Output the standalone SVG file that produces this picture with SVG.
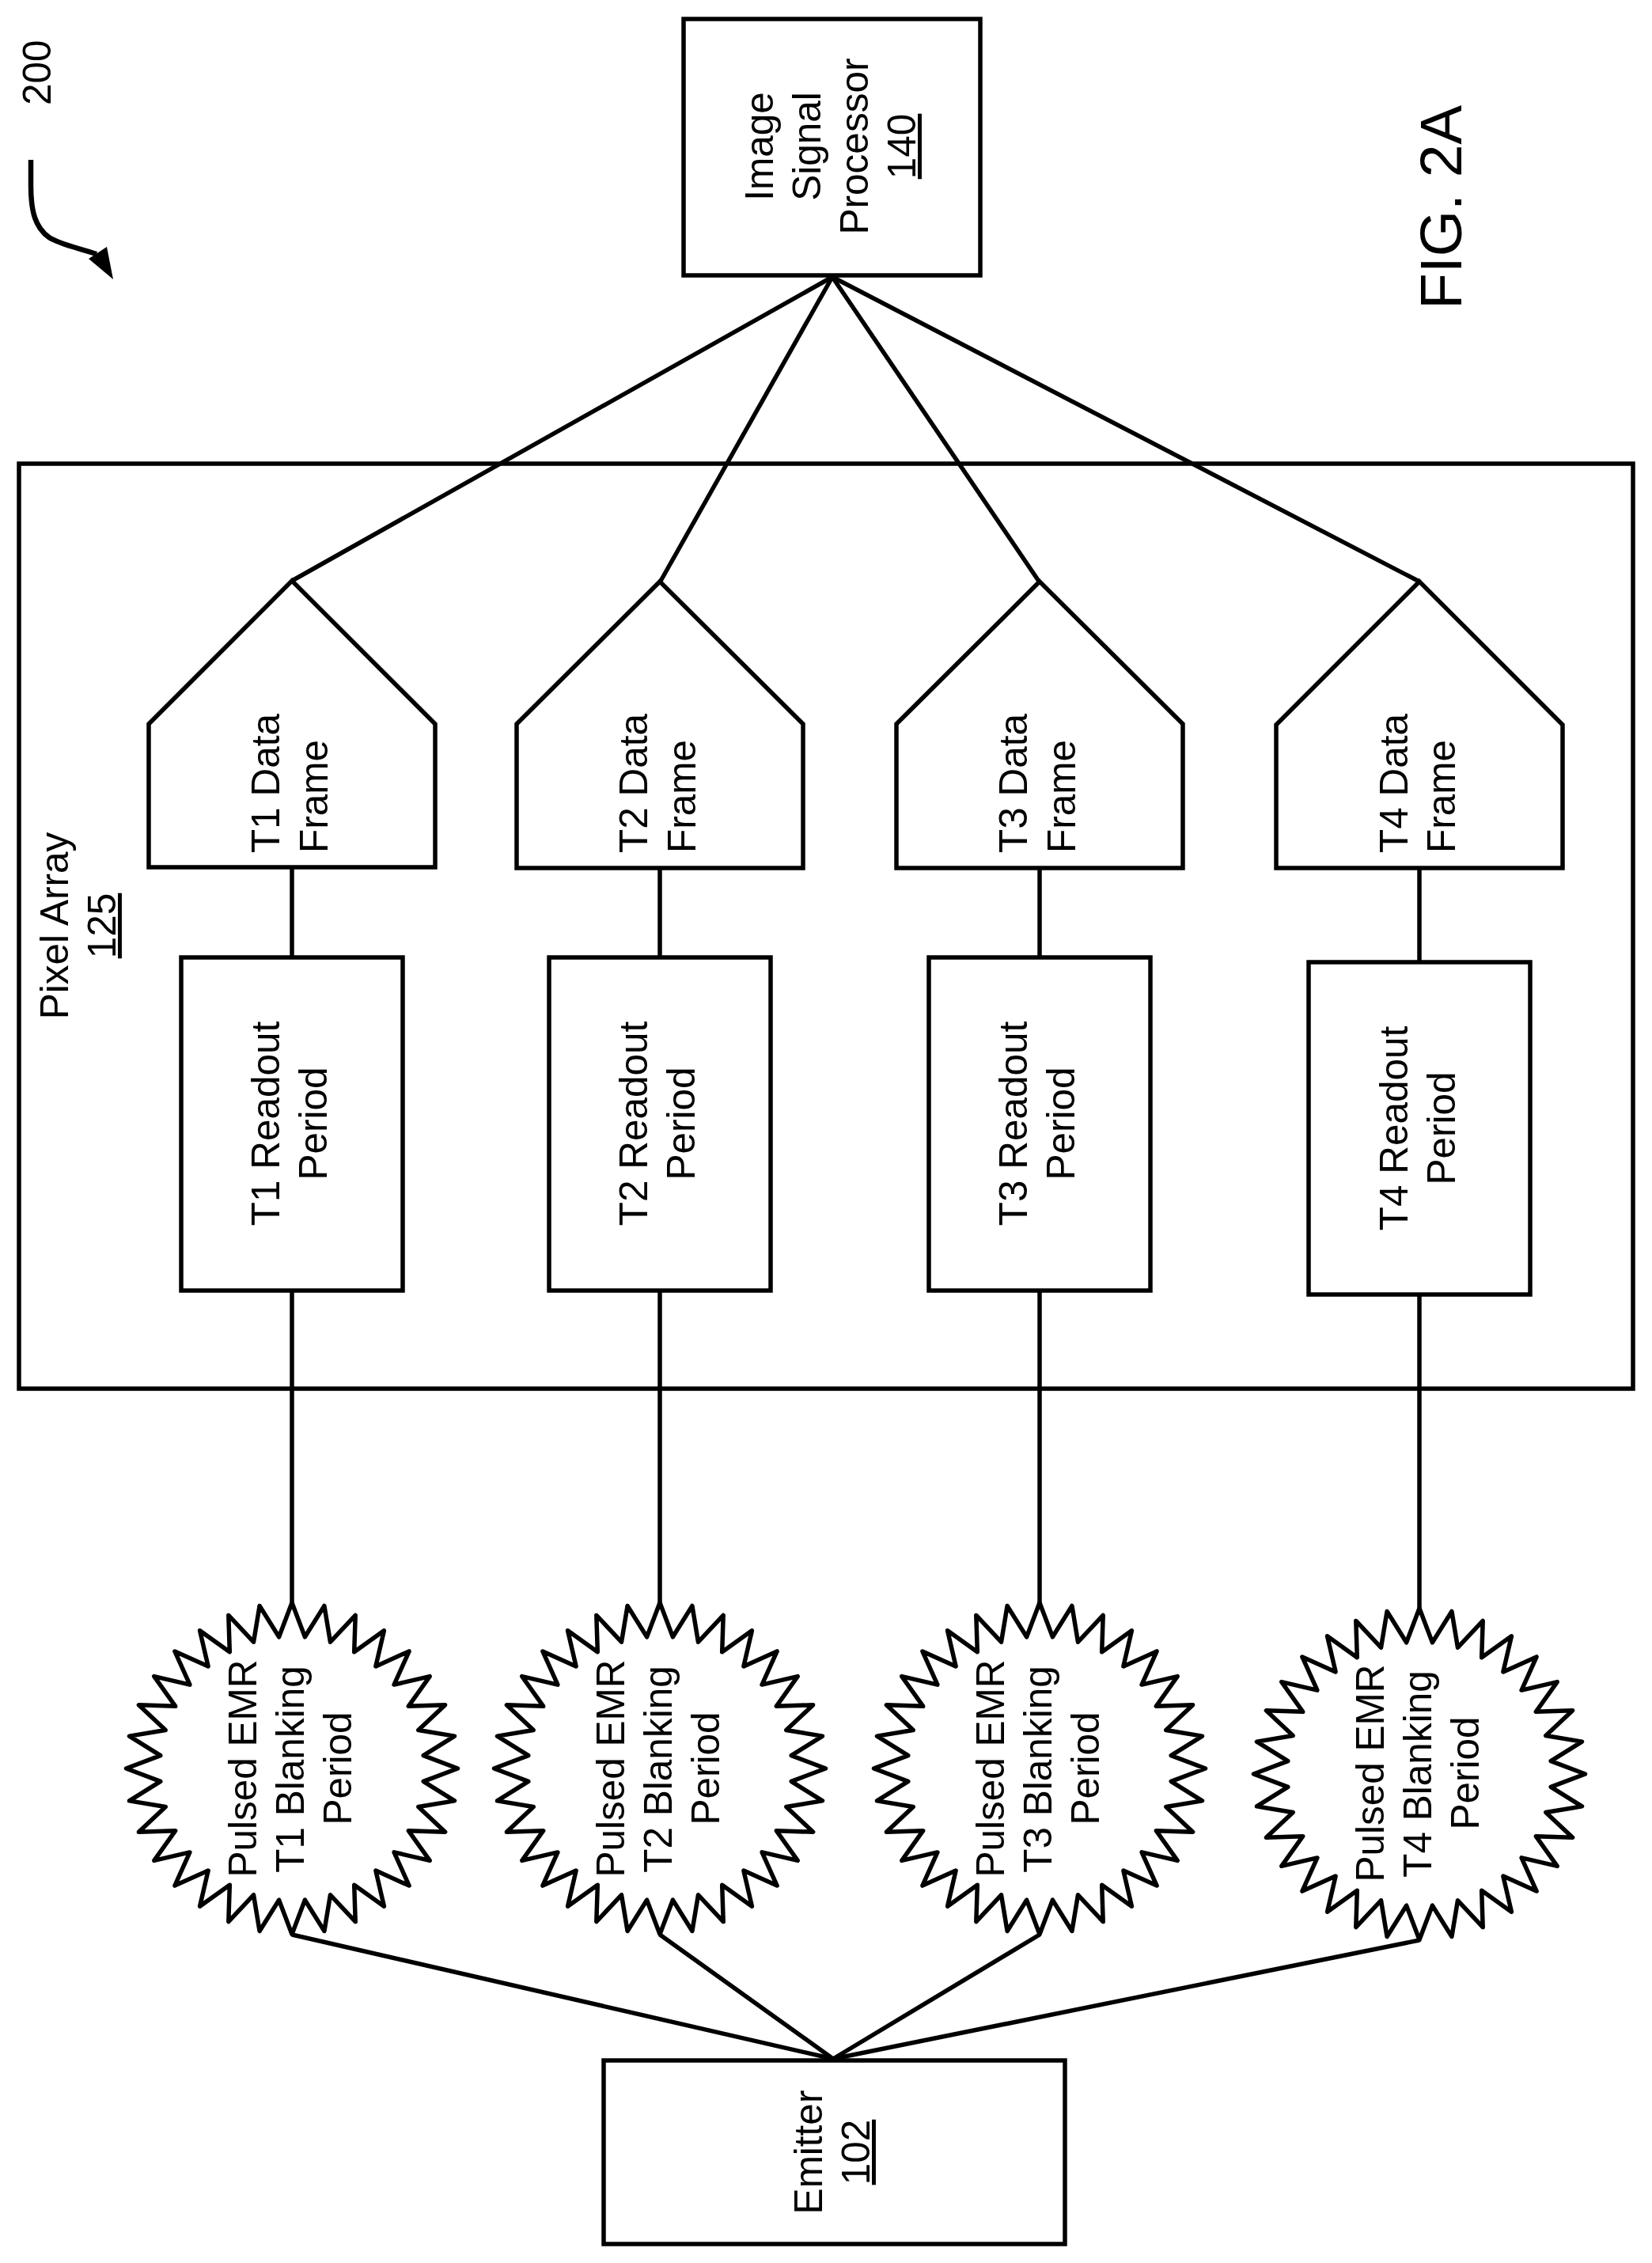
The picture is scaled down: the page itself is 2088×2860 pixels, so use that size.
<svg xmlns="http://www.w3.org/2000/svg" width="2088" height="2860" viewBox="0 0 2088 2860">
<style>
.s{fill:none;stroke:#000;stroke-width:5.5;stroke-linejoin:miter}
.b{fill:none;stroke:#000;stroke-width:5.5;stroke-linejoin:round}
.c{fill:none;stroke:#000;stroke-width:5.5;stroke-linecap:butt}
text{font-family:"Liberation Sans",Arial,sans-serif;font-size:49.5px;fill:#000}
.m{text-anchor:middle}
.u{text-decoration:underline}
.f{font-size:75px}
</style>
<defs>
<polygon id="burst" class="b" points="0,-209.5 16.4,-166.2 40.9,-205.5 48.5,-159.8 80.2,-193.6 78.7,-147.3 116.4,-174.2 105.9,-129.1 148.1,-148.1 129.1,-105.9 174.2,-116.4 147.3,-78.7 193.6,-80.2 159.8,-48.5 205.5,-40.9 166.2,-16.4 209.5,0 166.2,16.4 205.5,40.9 159.8,48.5 193.6,80.2 147.3,78.7 174.2,116.4 129.1,105.9 148.1,148.1 105.9,129.1 116.4,174.2 78.7,147.3 80.2,193.6 48.5,159.8 40.9,205.5 16.4,166.2 0,209.5 -16.4,166.2 -40.9,205.5 -48.5,159.8 -80.2,193.6 -78.7,147.3 -116.4,174.2 -105.9,129.1 -148.1,148.1 -129.1,105.9 -174.2,116.4 -147.3,78.7 -193.6,80.2 -159.8,48.5 -205.5,40.9 -166.2,16.4 -209.5,0 -166.2,-16.4 -205.5,-40.9 -159.8,-48.5 -193.6,-80.2 -147.3,-78.7 -174.2,-116.4 -129.1,-105.9 -148.1,-148.1 -105.9,-129.1 -116.4,-174.2 -78.7,-147.3 -80.2,-193.6 -48.5,-159.8 -40.9,-205.5 -16.4,-166.2"/>
</defs>
<rect width="2088" height="2860" fill="#fff"/>

<g id="ref-200">
<text transform="translate(64 133) rotate(-90)">200</text>
<path d="M39 202 L39 235 C39 268 45 288 62 300 C76 309 98 313 122 321" fill="none" stroke="#000" stroke-width="6.5"/>
<polygon points="143,353 135,312 112,327" fill="#000"/>
</g>

<g id="fig-label"><text class="f" transform="translate(1847 391) rotate(-90)">FIG. 2A</text></g>

<g id="connectors">
<line class="c" x1="369" y1="734" x2="1052" y2="350"/>
<line class="c" x1="834" y1="736" x2="1052" y2="350"/>
<line class="c" x1="1314" y1="736" x2="1052" y2="350"/>
<line class="c" x1="1794" y1="735" x2="1052" y2="350"/>
<line class="c" x1="369" y1="1096" x2="369" y2="1210"/>
<line class="c" x1="834" y1="1097" x2="834" y2="1210"/>
<line class="c" x1="1314" y1="1097" x2="1314" y2="1210"/>
<line class="c" x1="1794" y1="1097" x2="1794" y2="1216"/>
<line class="c" x1="369" y1="1631" x2="369" y2="2026"/>
<line class="c" x1="834" y1="1631" x2="834" y2="2026"/>
<line class="c" x1="1314" y1="1631" x2="1314" y2="2026"/>
<line class="c" x1="1794" y1="1636" x2="1794" y2="2033"/>
<line class="c" x1="369" y1="2445" x2="1053" y2="2602"/>
<line class="c" x1="834" y1="2445" x2="1053" y2="2602"/>
<line class="c" x1="1314" y1="2445" x2="1053" y2="2602"/>
<line class="c" x1="1794" y1="2452" x2="1053" y2="2602"/>
</g>

<g id="image-signal-processor">
<rect class="s" x="864" y="24" width="375" height="324"/>
<text class="m" transform="translate(977 185) rotate(-90)">Image</text>
<text class="m" transform="translate(1037 185) rotate(-90)">Signal</text>
<text class="m" transform="translate(1097 185) rotate(-90)">Processor</text>
<text class="m u" transform="translate(1157 185) rotate(-90)">140</text>
</g>

<g id="pixel-array">
<rect class="s" x="24" y="586" width="2040" height="1169"/>
<text class="m" transform="translate(86 1170) rotate(-90)">Pixel Array</text>
<text class="m u" transform="translate(146 1170) rotate(-90)">125</text>
</g>

<g id="t1-data-frame">
<polygon class="s" points="369,734 550,915 550,1096 188,1096 188,915"/>
<text transform="translate(353 1078) rotate(-90)">T1 Data</text>
<text transform="translate(414 1078) rotate(-90)">Frame</text>
</g>
<g id="t2-data-frame">
<polygon class="s" points="834,735 1015,915 1015,1097 653,1097 653,915"/>
<text transform="translate(818 1078) rotate(-90)">T2 Data</text>
<text transform="translate(879 1078) rotate(-90)">Frame</text>
</g>
<g id="t3-data-frame">
<polygon class="s" points="1314,735 1495,915 1495,1097 1133,1097 1133,915"/>
<text transform="translate(1298 1078) rotate(-90)">T3 Data</text>
<text transform="translate(1359 1078) rotate(-90)">Frame</text>
</g>
<g id="t4-data-frame">
<polygon class="s" points="1794,735 1975,916 1975,1097 1613,1097 1613,916"/>
<text transform="translate(1779 1078) rotate(-90)">T4 Data</text>
<text transform="translate(1839 1078) rotate(-90)">Frame</text>
</g>

<g id="t1-readout">
<rect class="s" x="229" y="1210" width="280" height="421"/>
<text class="m" transform="translate(353 1420) rotate(-90)">T1 Readout</text>
<text class="m" transform="translate(413 1420) rotate(-90)">Period</text>
</g>
<g id="t2-readout">
<rect class="s" x="694" y="1210" width="280" height="421"/>
<text class="m" transform="translate(818 1420) rotate(-90)">T2 Readout</text>
<text class="m" transform="translate(878 1420) rotate(-90)">Period</text>
</g>
<g id="t3-readout">
<rect class="s" x="1174" y="1210" width="280" height="421"/>
<text class="m" transform="translate(1298 1420) rotate(-90)">T3 Readout</text>
<text class="m" transform="translate(1358 1420) rotate(-90)">Period</text>
</g>
<g id="t4-readout">
<rect class="s" x="1654" y="1216" width="280" height="420"/>
<text class="m" transform="translate(1779 1426) rotate(-90)">T4 Readout</text>
<text class="m" transform="translate(1839 1426) rotate(-90)">Period</text>
</g>

<g id="t1-blanking">
<use href="#burst" x="369" y="2235"/>
<text class="m" transform="translate(324 2235) rotate(-90)">Pulsed EMR</text>
<text class="m" transform="translate(384 2236) rotate(-90)">T1 Blanking</text>
<text class="m" transform="translate(444 2235) rotate(-90)">Period</text>
</g>
<g id="t2-blanking">
<use href="#burst" x="834" y="2235"/>
<text class="m" transform="translate(789 2235) rotate(-90)">Pulsed EMR</text>
<text class="m" transform="translate(849 2236) rotate(-90)">T2 Blanking</text>
<text class="m" transform="translate(909 2235) rotate(-90)">Period</text>
</g>
<g id="t3-blanking">
<use href="#burst" x="1314" y="2235"/>
<text class="m" transform="translate(1269 2235) rotate(-90)">Pulsed EMR</text>
<text class="m" transform="translate(1329 2236) rotate(-90)">T3 Blanking</text>
<text class="m" transform="translate(1389 2235) rotate(-90)">Period</text>
</g>
<g id="t4-blanking">
<use href="#burst" x="1794" y="2242"/>
<text class="m" transform="translate(1749 2241) rotate(-90)">Pulsed EMR</text>
<text class="m" transform="translate(1809 2242) rotate(-90)">T4 Blanking</text>
<text class="m" transform="translate(1869 2241) rotate(-90)">Period</text>
</g>

<g id="emitter">
<rect class="s" x="763" y="2604" width="583" height="232"/>
<text class="m" transform="translate(1039 2720) rotate(-90)">Emitter</text>
<text class="m u" transform="translate(1099 2720) rotate(-90)">102</text>
</g>
</svg>
